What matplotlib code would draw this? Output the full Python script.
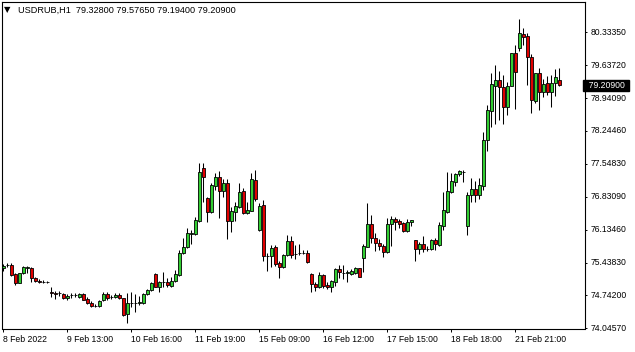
import numpy as np
import matplotlib
matplotlib.use("Agg")
import matplotlib.pyplot as plt
from matplotlib.transforms import blended_transform_factory

# USDRUB H1 candles, oldest first
opens = [75.339, 75.409, 75.409, 75.218, 75.034, 75.233, 75.352, 75.352, 75.133, 75.060,
         75.055, 75.051, 74.826, 74.805, 74.805, 74.795, 74.704, 74.763, 74.765, 74.725,
         74.801, 74.693, 74.604, 74.547, 74.530, 74.668, 74.788, 74.739, 74.725, 74.773,
         74.704, 74.365, 74.598, 74.611, 74.609, 74.598, 74.788, 74.879, 75.212, 74.936,
         75.038, 75.049, 74.970, 75.070, 75.203, 75.656, 75.783, 76.064, 76.054, 76.346,
         77.455, 76.820, 76.520, 77.087, 77.265, 76.981, 77.138, 76.340, 76.537, 76.643,
         76.975, 76.503, 76.558, 77.208, 76.149, 76.678, 75.605, 75.605, 75.783, 75.451,
         75.356, 75.620, 75.923, 75.646, 75.669, 75.667, 75.656, 75.218, 75.000, 74.949,
         75.197, 74.985, 74.949, 75.055, 75.324, 75.246, 75.244, 75.218, 75.246, 75.339,
         75.563, 75.796, 76.276, 75.974, 75.881, 75.811, 75.673, 76.276, 76.376, 76.340,
         76.304, 76.128, 76.312, 75.938, 75.747, 75.853, 75.749, 75.747, 75.938, 75.832,
         76.240, 76.537, 76.960, 77.171, 77.328, 77.384, 76.240, 76.890, 77.011, 76.890,
         77.087, 78.054, 78.674, 79.197, 79.324, 79.169, 78.759, 79.197, 79.889, 79.995,
         80.298, 80.255, 79.804, 78.886, 79.466, 79.076, 79.254, 79.076, 79.254, 79.328]
highs = [75.430, 75.441, 75.445, 75.239, 75.246, 75.394, 75.388, 75.373, 75.154, 75.104,
         75.091, 75.076, 74.932, 74.864, 74.848, 74.810, 74.784, 74.810, 74.816, 74.816,
         74.816, 74.720, 74.636, 74.573, 74.668, 74.837, 74.837, 74.767, 74.810, 74.810,
         74.716, 74.810, 74.843, 74.788, 74.752, 74.822, 74.900, 75.042, 75.233, 75.070,
         75.267, 75.127, 75.161, 75.303, 75.726, 75.987, 76.185, 76.149, 76.431, 77.561,
         77.561, 76.848, 77.138, 77.350, 77.398, 77.229, 77.229, 76.643, 76.748, 77.138,
         77.032, 76.748, 77.350, 77.419, 76.714, 76.784, 75.652, 75.832, 75.832, 75.493,
         75.635, 76.033, 76.022, 75.832, 75.853, 75.726, 75.726, 75.246, 75.055, 75.267,
         75.212, 75.055, 75.091, 75.352, 75.409, 75.409, 75.303, 75.318, 75.373, 75.352,
         75.847, 76.714, 76.467, 76.079, 75.952, 75.847, 76.397, 76.452, 76.431, 76.376,
         76.325, 76.376, 76.361, 75.938, 75.902, 76.022, 75.800, 75.952, 75.973, 76.325,
         76.960, 77.383, 77.362, 77.362, 77.419, 77.419, 76.960, 77.244, 77.186, 77.244,
         78.230, 78.795, 79.466, 79.641, 79.504, 79.430, 79.288, 79.895, 80.065, 80.615,
         80.418, 80.312, 79.868, 79.478, 79.572, 79.339, 79.409, 79.430, 79.550, 79.5765]
lows = [75.288, 75.360, 75.176, 74.985, 75.017, 75.218, 75.233, 75.055, 75.049, 75.021,
        75.021, 75.034, 74.738, 74.678, 74.752, 74.689, 74.668, 74.710, 74.720, 74.710,
        74.657, 74.573, 74.509, 74.520, 74.520, 74.647, 74.668, 74.689, 74.704, 74.683,
        74.336, 74.175, 74.526, 74.420, 74.562, 74.583, 74.767, 74.864, 74.936, 74.830,
        74.936, 74.949, 74.949, 75.042, 75.176, 75.641, 75.775, 75.853, 76.033, 76.325,
        76.749, 76.325, 76.503, 76.996, 76.410, 76.854, 75.948, 76.101, 76.346, 76.608,
        76.488, 76.488, 76.545, 76.763, 76.128, 75.493, 75.288, 75.373, 75.387, 75.127,
        75.345, 75.599, 75.550, 75.525, 75.620, 75.641, 75.458, 74.843, 74.864, 74.915,
        74.928, 74.894, 74.843, 74.964, 75.127, 75.112, 75.042, 75.197, 75.218, 75.148,
        75.267, 75.783, 75.868, 75.711, 75.726, 75.584, 75.656, 75.817, 76.149, 76.191,
        76.113, 76.113, 76.240, 75.500, 75.641, 75.690, 75.694, 75.726, 75.726, 75.811,
        76.149, 76.503, 76.939, 77.087, 77.292, 77.171, 76.043, 76.748, 76.748, 76.799,
        76.996, 77.821, 78.336, 78.393, 78.477, 78.387, 78.583, 79.186, 78.704, 79.944,
        80.065, 79.218, 78.619, 78.843, 78.689, 78.958, 79.007, 78.759, 78.992, 79.194]
closes = [75.388, 75.405, 75.197, 75.027, 75.233, 75.373, 75.373, 75.133, 75.070, 75.055,
          75.051, 75.049, 74.822, 74.801, 74.810, 74.704, 74.759, 74.761, 74.769, 74.788,
          74.668, 74.594, 74.541, 74.545, 74.647, 74.788, 74.704, 74.737, 74.767, 74.704,
          74.350, 74.598, 74.594, 74.609, 74.615, 74.788, 74.879, 75.021, 74.949, 75.049,
          75.040, 74.985, 75.076, 75.212, 75.656, 75.783, 76.079, 76.085, 76.351, 77.366,
          77.277, 76.524, 77.102, 77.265, 76.981, 77.138, 76.340, 76.552, 76.657, 76.943,
          76.503, 76.573, 77.222, 76.795, 76.664, 75.599, 75.603, 75.762, 75.430, 75.356,
          75.620, 75.923, 75.620, 75.644, 75.667, 75.669, 75.466, 75.000, 74.949, 75.197,
          74.964, 74.949, 75.070, 75.324, 75.254, 75.244, 75.248, 75.282, 75.339, 75.161,
          75.811, 76.276, 75.974, 75.868, 75.817, 75.673, 76.276, 76.376, 76.325, 76.276,
          76.128, 76.312, 76.361, 75.747, 75.853, 75.747, 75.747, 75.938, 75.847, 76.255,
          76.573, 76.975, 77.186, 77.334, 77.398, 77.383, 76.890, 77.011, 76.890, 77.102,
          78.054, 78.689, 79.239, 79.324, 79.169, 78.759, 79.197, 79.889, 79.487, 80.312,
          80.240, 79.804, 78.901, 79.466, 79.076, 79.239, 79.076, 79.267, 79.381, 79.209]

time_ticks = [0, 16, 32, 48, 64, 80, 96, 112, 128]
time_labels = ["8 Feb 2022", "9 Feb 13:00", "10 Feb 16:00", "11 Feb 19:00", "15 Feb 09:00",
               "16 Feb 12:00", "17 Feb 15:00", "18 Feb 18:00", "21 Feb 21:00"]
price_labels = ["80.33350", "79.63720", "78.94090", "78.24460", "77.54830",
                "76.83090", "76.13460", "75.43830", "74.74200", "74.04570"]
price_top = 80.3335
price_step = 0.6963
last_price = 79.209
title = "USDRUB,H1  79.32800 79.57650 79.19400 79.20900"

plt.rcParams["font.family"] = ["Liberation Sans", "DejaVu Sans"]

o = np.array(opens)
h = np.array(highs)
l = np.array(lows)
c = np.array(closes)
idx = np.arange(len(o))
up = c >= o

fig = plt.figure(figsize=(6.35, 3.52), dpi=100)
W, H = 635, 352
ax = fig.add_axes([2 / W, 23.5 / H, 582.5 / W, 326.5 / H])

# wicks then bodies
ax.vlines(idx, l, h, color="black", lw=0.75, zorder=2)
ax.bar(idx, np.abs(c - o), width=0.72, bottom=np.minimum(o, c),
       color=np.where(up, "#32cd32", "#e00000"), edgecolor="black",
       linewidth=0.6, zorder=3)

ax.set_xlim(-0.325, 145.3)
ax.set_ylim(74.062, 80.975)

for s in ax.spines.values():
    s.set_linewidth(0.8)
    s.set_color("black")

ax.set_xticks(time_ticks)
ax.set_xticklabels(time_labels, ha="left")
ax.tick_params(axis="x", direction="out", length=2.2, width=0.7, pad=2.5,
               labelsize=6.2)

yt = [price_top - price_step * k for k in range(len(price_labels))]
ax.yaxis.tick_right()
ax.set_yticks(yt)
ax.set_yticklabels(price_labels, va="center")
ax.tick_params(axis="y", direction="out", length=1.6, width=0.7, pad=3,
               labelsize=6.2)

# last price marker on the price scale
tr = blended_transform_factory(ax.transAxes, ax.transData)
ax.text(1.0, last_price, "  " + "79.20900" + " ", transform=tr, ha="left", va="center",
        fontsize=6.2, color="white", zorder=5, clip_on=False,
        bbox=dict(boxstyle="square,pad=0.12", fc="black", ec="black"))

fig.text(4 / W, 1 - 10 / H, "\u25bc", fontsize=6, va="center", ha="left",
         family=["DejaVu Sans"])
fig.text(18 / W, 1 - 10 / H, title, fontsize=6.6, va="center", ha="left")

fig.savefig("out.png", dpi=100)
